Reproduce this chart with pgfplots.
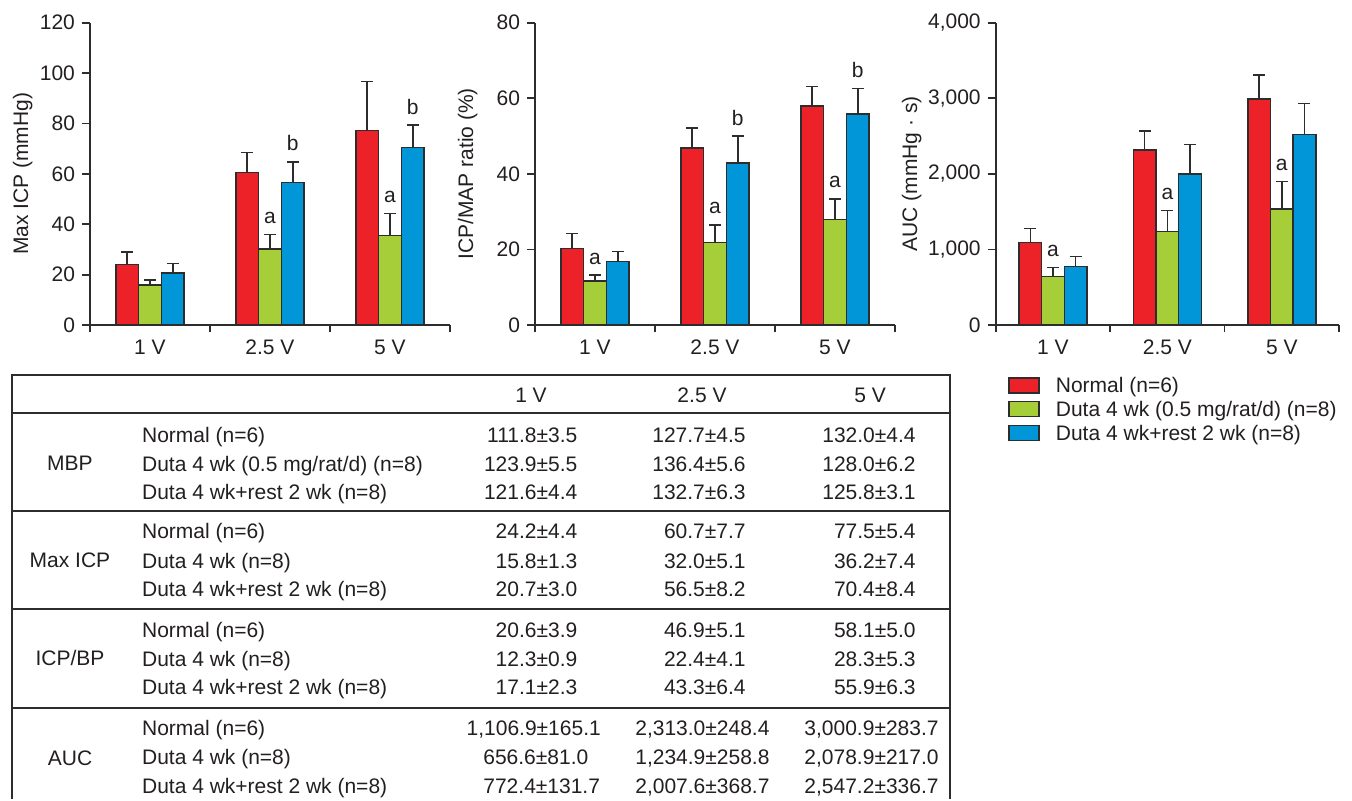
\documentclass[border=0pt]{standalone}
\usepackage{fontspec}
\setmainfont{Liberation Sans}
\usepackage{pgfplots}
\pgfplotsset{compat=1.18}
\definecolor{cred}{RGB}{236,34,40}
\definecolor{cgreen}{RGB}{166,206,57}
\definecolor{cblue}{RGB}{0,150,216}
\definecolor{ink}{RGB}{35,31,32}
\definecolor{linec}{RGB}{45,45,45}
\newcommand{\fs}{\fontsize{10.5pt}{12pt}\selectfont}
\pgfplotsset{
  mybars/.style={
    scale only axis, anchor=south west,
    height=151.15pt,
    xmin=0, xmax=3, ymin=0,
    axis x line=bottom, axis y line=left,
    axis line style={-, draw=linec, line width=0.9pt},
    tick align=outside,
    xtick={0.5,1.5,2.5}, xticklabels={1 V,2.5 V,5 V},
    major x tick style={draw=none},
    minor xtick={0,1,2,3},
    minor tick length=3.5pt, major tick length=4pt,
    every tick/.style={draw=linec, line width=0.9pt},
    ybar,
    font=\fs,
    /pgf/number format/assume math mode=true,
    ticklabel style={font=\fs, text=ink},
    label style={font=\fs, text=ink},
    ylabel style={at={(axis description cs:-0.187,0.5)}, anchor=center},
    clip=false,
    error bars/y dir=plus, error bars/y explicit,
    error bars/error bar style={draw=linec, line width=0.75pt},
    error bars/error mark options={draw=linec, line width=0.75pt, mark size=3pt, rotate=90},
  },
  bR/.style={fill=cred, draw=linec, line width=0.75pt, bar width=#1, bar shift=-#1,
    legend image code/.code={\draw[fill=cred,draw=linec,line width=0.75pt] (0pt,0pt) rectangle (15pt,7.5pt);}},
  bG/.style={fill=cgreen, draw=linec, line width=0.75pt, bar width=#1, bar shift=0,
    legend image code/.code={\draw[fill=cgreen,draw=linec,line width=0.75pt] (0pt,0pt) rectangle (15pt,7.5pt);}},
  bB/.style={fill=cblue, draw=linec, line width=0.75pt, bar width=#1, bar shift=#1,
    legend image code/.code={\draw[fill=cblue,draw=linec,line width=0.75pt] (0pt,0pt) rectangle (15pt,7.5pt);}},
}
\begin{document}
\begin{tikzpicture}[font=\fs, text=ink]
\path (0pt,0pt) rectangle (676pt,-399.5pt);
% ---------- Max ICP
\begin{axis}[mybars, at={(45pt,-162.5pt)}, width=180pt, ymax=120, ytick={0,20,...,120},
  ylabel={Max ICP (mmHg)}]
\addplot[bR=0.19] coordinates {(0.5,24.0) +- (0,5.0) (1.5,60.6) +- (0,7.9) (2.5,77.2) +- (0,19.5)};
\addplot[bG=0.19] coordinates {(0.5,15.8) +- (0,2.0) (1.5,30.1) +- (0,5.9) (2.5,35.6) +- (0,8.6)};
\addplot[bB=0.19] coordinates {(0.5,20.7) +- (0,3.7) (1.5,56.6) +- (0,8.2) (2.5,70.4) +- (0,8.9)};
\node[anchor=base, inner sep=0, yshift=5.5pt] at (axis cs:1.5,36.0) {a};
\node[anchor=base, inner sep=0, yshift=5.5pt] at (axis cs:2.5,44.2) {a};
\node[anchor=base, inner sep=0, yshift=5.5pt] at (axis cs:1.69,64.8) {b};
\node[anchor=base, inner sep=0, yshift=5.5pt] at (axis cs:2.69,79.3) {b};
\end{axis}
% ---------- ICP/MAP
\begin{axis}[mybars, at={(267.5pt,-162.5pt)}, width=180pt, ymax=80, ytick={0,20,...,80},
  ylabel={ICP/MAP ratio (\%)}]
\addplot[bR=0.19] coordinates {(0.5,20.3) +- (0,3.9) (1.5,46.8) +- (0,5.4) (2.5,58.0) +- (0,5.1)};
\addplot[bG=0.19] coordinates {(0.5,11.6) +- (0,1.6) (1.5,21.8) +- (0,4.7) (2.5,27.9) +- (0,5.5)};
\addplot[bB=0.19] coordinates {(0.5,16.8) +- (0,2.6) (1.5,42.9) +- (0,7.1) (2.5,55.8) +- (0,6.8)};
\node[anchor=base, inner sep=0, yshift=5.5pt] at (axis cs:0.5,13.2) {a};
\node[anchor=base, inner sep=0, yshift=5.5pt] at (axis cs:1.5,26.5) {a};
\node[anchor=base, inner sep=0, yshift=5.5pt] at (axis cs:2.5,33.4) {a};
\node[anchor=base, inner sep=0, yshift=5.5pt] at (axis cs:1.69,50.0) {b};
\node[anchor=base, inner sep=0, yshift=5.5pt] at (axis cs:2.69,62.6) {b};
\end{axis}
% ---------- AUC
\begin{axis}[mybars, at={(497.85pt,-162.5pt)}, width=171.65pt, ymax=4000, ytick={0,1000,...,4000},
  yticklabel style={/pgf/number format/.cd, 1000 sep={,}},
  ylabel={AUC (mmHg · s)},
  ylabel style={at={(axis description cs:-0.245,0.5)}},
  legend style={at={(axis description cs:0.0358,-0.169)}, anchor=north west, draw=none, fill=none,
    inner sep=0pt, row sep=0pt, column sep=8pt, font=\fs, text=ink,
    nodes={inner sep=0pt, text height=8.2pt, text depth=3.65pt, anchor=base west}},
  legend cell align=left]
\addplot[bR=0.198] coordinates {(0.5,1089) +- (0,190) (1.5,2315) +- (0,252) (2.5,2990) +- (0,318)};
\addlegendentry{Normal (n=6)}
\addplot[bG=0.198] coordinates {(0.5,639) +- (0,119) (1.5,1235) +- (0,282) (2.5,1535) +- (0,361)};
\addlegendentry{Duta 4 wk (0.5 mg/rat/d) (n=8)}
\addplot[bB=0.198] coordinates {(0.5,771) +- (0,138) (1.5,1998) +- (0,388) (2.5,2518) +- (0,415)};
\addlegendentry{Duta 4 wk+rest 2 wk (n=8)}
\node[anchor=base, inner sep=0, yshift=5.5pt] at (axis cs:0.5,758) {a};
\node[anchor=base, inner sep=0, yshift=5.5pt] at (axis cs:1.5,1517) {a};
\node[anchor=base, inner sep=0, yshift=5.5pt] at (axis cs:2.5,1896) {a};
\end{axis}
% ---------- table
\begin{scope}[x=0.5pt, y=-0.5pt]
\draw[linec, line width=1pt] (12,799) -- (12,375) -- (950,375) -- (950,799);
\draw[linec, line width=1pt] (12,412.7) -- (950,412.7);
\draw[linec, line width=1pt] (12,511) -- (950,511);
\draw[linec, line width=1pt] (12,609) -- (950,609);
\draw[linec, line width=1pt] (12,707.7) -- (950,707.7);
\begin{scope}[every node/.style={inner sep=0pt, anchor=base}]
\node at (531,402.5) {1 V};
\node at (702,402.5) {2.5 V};
\node at (870,402.5) {5 V};
\node at (70,470.8) {MBP};
\node at (70,567.5) {Max ICP};
\node at (70,665.8) {ICP/BP};
\node at (70,765.2) {AUC};
\end{scope}
\begin{scope}[every node/.style={inner sep=0pt, anchor=base west}]
\node at (141.7,442) {Normal (n=6)};
\node at (141.7,471) {Duta 4 wk (0.5 mg/rat/d) (n=8)};
\node at (141.7,499) {Duta 4 wk+rest 2 wk (n=8)};
\node at (141.7,538.7) {Normal (n=6)};
\node at (141.7,568) {Duta 4 wk (n=8)};
\node at (141.7,596.8) {Duta 4 wk+rest 2 wk (n=8)};
\node at (141.7,637.5) {Normal (n=6)};
\node at (141.7,666) {Duta 4 wk (n=8)};
\node at (141.7,694.7) {Duta 4 wk+rest 2 wk (n=8)};
\node at (141.7,735) {Normal (n=6)};
\node at (141.7,764.5) {Duta 4 wk (n=8)};
\node at (141.7,793) {Duta 4 wk+rest 2 wk (n=8)};
\end{scope}
\begin{scope}[every node/.style={inner sep=0pt, anchor=base east}]
\node at (577.7,442) {111.8±3.5};
\node at (746,442) {127.7±4.5};
\node at (916,442) {132.0±4.4};
\node at (577.7,471) {123.9±5.5};
\node at (746,471) {136.4±5.6};
\node at (916,471) {128.0±6.2};
\node at (577.7,499) {121.6±4.4};
\node at (746,499) {132.7±6.3};
\node at (916,499) {125.8±3.1};
\node at (577.7,538.7) {24.2±4.4};
\node at (746,538.7) {60.7±7.7};
\node at (916,538.7) {77.5±5.4};
\node at (577.7,568) {15.8±1.3};
\node at (746,568) {32.0±5.1};
\node at (916,568) {36.2±7.4};
\node at (577.7,596.8) {20.7±3.0};
\node at (746,596.8) {56.5±8.2};
\node at (916,596.8) {70.4±8.4};
\node at (577.7,637.5) {20.6±3.9};
\node at (746,637.5) {46.9±5.1};
\node at (916,637.5) {58.1±5.0};
\node at (577.7,666) {12.3±0.9};
\node at (746,666) {22.4±4.1};
\node at (916,666) {28.3±5.3};
\node at (577.7,694.7) {17.1±2.3};
\node at (746,694.7) {43.3±6.4};
\node at (916,694.7) {55.9±6.3};
\end{scope}
\begin{scope}[every node/.style={inner sep=0pt, anchor=base}]
\node at (533.7,735) {1,106.9±165.1};
\node at (702.4,735) {2,313.0±248.4};
\node at (871.5,735) {3,000.9±283.7};
\node at (535.8,764.5) {656.6±81.0};
\node at (702.4,764.5) {1,234.9±258.8};
\node at (871.5,764.5) {2,078.9±217.0};
\node at (541.7,793) {772.4±131.7};
\node at (702.4,793) {2,007.6±368.7};
\node at (871.5,793) {2,547.2±336.7};
\end{scope}
\end{scope}
\end{tikzpicture}
\end{document}
